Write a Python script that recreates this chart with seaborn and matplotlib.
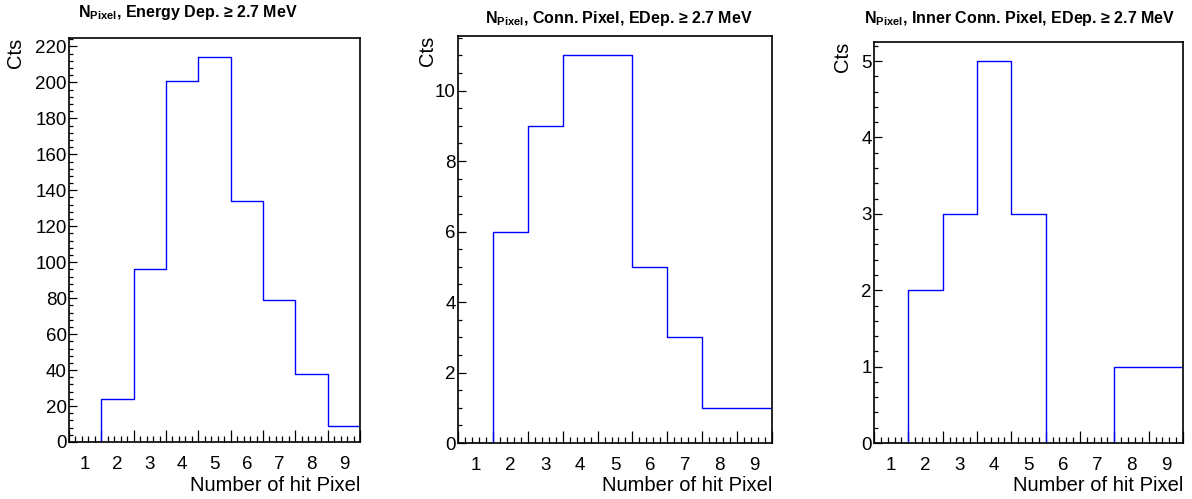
import numpy as np
import pandas as pd
import matplotlib
matplotlib.use("Agg")
import matplotlib.pyplot as plt
from matplotlib.ticker import FixedLocator, MultipleLocator, NullFormatter
import seaborn as sns

# ---- data ----
bins = [1, 2, 3, 4, 5, 6, 7, 8, 9]
counts_energy = [0, 24, 96, 201, 214, 134, 79, 38, 9]
counts_conn = [0, 6, 9, 11, 11, 5, 3, 1, 1]
counts_inner = [0, 2, 3, 5, 3, 0, 0, 1, 1]
titles = [
    r"N$_{\mathbf{Pixel}}$, Energy Dep. ≥ 2.7 MeV",
    r"N$_{\mathbf{Pixel}}$, Conn. Pixel, EDep. ≥ 2.7 MeV",
    r"N$_{\mathbf{Pixel}}$, Inner Conn. Pixel, EDep. ≥ 2.7 MeV",
]
xlabel = "Number of hit Pixel"
ylabel = "Cts"

sns.set_style("white")
plt.rcParams["font.family"] = ["Liberation Sans", "DejaVu Sans"]
plt.rcParams["mathtext.fontset"] = "custom"
plt.rcParams["mathtext.rm"] = "Liberation Sans"
plt.rcParams["mathtext.bf"] = "Liberation Sans:bold"
plt.rcParams["mathtext.it"] = "Liberation Sans:italic"
for k in ["text.color", "axes.labelcolor", "xtick.color", "ytick.color",
          "xtick.labelcolor", "ytick.labelcolor", "axes.edgecolor"]:
    plt.rcParams[k] = "black"

W, H = 1192, 499
fig = plt.figure(figsize=(W / 100, H / 100), dpi=100)

# layout (pixels): left, right, top, bottom
boxes = [(69, 360, 38, 442), (458, 772, 36, 443), (874, 1183, 42, 443)]
ymajor = [20, 2, 1]
yminor = [4, 0.5, 0.2]
ylab_x = [25, 437, 852]
title_pos = [(188, 12), (619, 19), (1020, 19)]
datasets = [counts_energy, counts_conn, counts_inner]

edges = [b - 0.5 for b in bins] + [bins[-1] + 0.5]

for i, counts in enumerate(datasets):
    l, r, t, b = boxes[i]
    ax = fig.add_axes([l / W, (H - b) / H, (r - l) / W, (b - t) / H])
    df = pd.DataFrame({"bin": bins, "count": counts})
    sns.histplot(data=df, x="bin", weights="count", bins=edges, element="step",
                 fill=False, color="#0000ff", linewidth=1.0, ax=ax)
    ax.set_xlim(edges[0], edges[-1])
    ax.set_ylim(0, max(counts) * 1.05)
    for s in ax.spines.values():
        s.set_visible(True)
        s.set_color("black")
        s.set_linewidth(1.2)
    # x ticks: long at bin edges, short minor, labels at bin centres
    ax.xaxis.set_major_locator(FixedLocator(edges))
    ax.xaxis.set_major_formatter(NullFormatter())
    ax.xaxis.set_minor_locator(MultipleLocator(0.2, offset=0.5))
    ax.tick_params(axis="x", which="major", direction="in", length=8.5, width=0.9,
                   color="black", bottom=True, top=False)
    ax.tick_params(axis="x", which="minor", direction="in", length=4.3, width=0.9,
                   color="black", bottom=True, top=False)
    ax.yaxis.set_major_locator(MultipleLocator(ymajor[i]))
    ax.yaxis.set_minor_locator(MultipleLocator(yminor[i]))
    ax.tick_params(axis="y", which="major", direction="in", length=5.8, width=0.9,
                   color="black", left=True, right=False, labelsize=13.5, pad=1.5)
    ax.tick_params(axis="y", which="minor", direction="in", length=2.9, width=0.9,
                   color="black", left=True, right=False)
    sec = ax.secondary_xaxis("bottom")
    sec.set_xticks(bins)
    sec.set_xticklabels([str(v) for v in bins])
    sec.tick_params(length=0, labelsize=13.5, pad=10, labelcolor="black")
    sec.spines["bottom"].set_visible(False)

    ax.set_xlabel(xlabel, fontsize=14.5, loc="right")
    ax.xaxis.set_label_coords(1.0, -(476 - b) / (b - t))
    ax.set_ylabel(ylabel, fontsize=14.5, loc="top")
    ax.yaxis.set_label_coords((ylab_x[i] - l) / (r - l), 1.0)

    tx, ty = title_pos[i]
    fig.text(tx / W, 1 - ty / H, titles[i], ha="center", va="center",
             fontsize=11.5, fontweight="bold", color="black")

fig.savefig("out.png", dpi=100, facecolor="white")
